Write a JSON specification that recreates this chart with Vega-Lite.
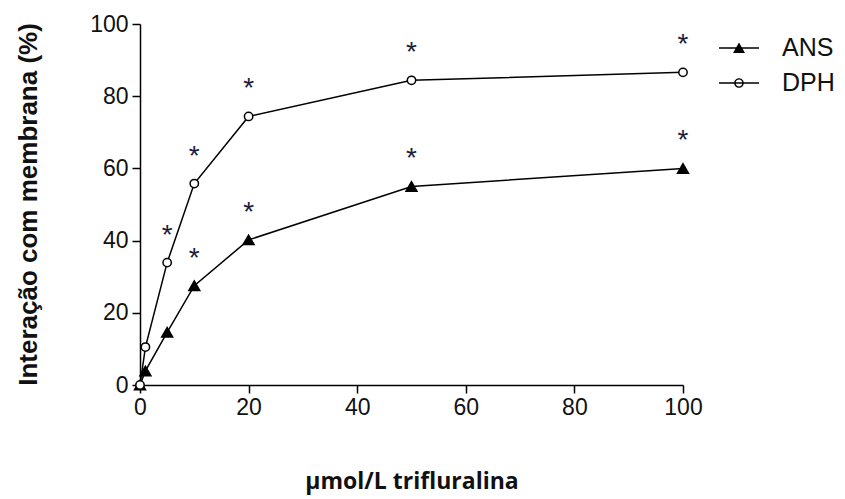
{
  "$schema": "https://vega.github.io/schema/vega-lite/v6.json",
  "width": 543,
  "height": 361,
  "autosize": "none",
  "padding": {"left": 140, "top": 24, "right": 162, "bottom": 114},
  "background": "white",
  "config": {
    "view": {"stroke": null},
    "font": "Liberation Sans",
    "axis": {
      "domainColor": "black",
      "domainWidth": 1.5,
      "tickColor": "black",
      "tickWidth": 1.5,
      "tickSize": 8,
      "grid": false,
      "labelFlush": false,
      "labelOverlap": false,
      "labelFont": "Liberation Sans",
      "labelFontSize": 23,
      "labelColor": "#111111",
      "titleColor": "#111111"
    },
    "legend": {
      "title": null,
      "orient": "none",
      "legendX": 578,
      "legendY": 3,
      "symbolSize": 1600,
      "symbolOpacity": 1,
      "rowPadding": 1,
      "labelOffset": 22,
      "labelFont": "Liberation Sans",
      "labelFontSize": 25,
      "labelColor": "#111111",
      "labelBaseline": "middle"
    }
  },
  "datasets": {
    "series_points": [
      {"conc": 0, "value": 0, "series": "ANS", "sig": false},
      {"conc": 1, "value": 3.9, "series": "ANS", "sig": false},
      {"conc": 5, "value": 14.6, "series": "ANS", "sig": false},
      {"conc": 10, "value": 27.5, "series": "ANS", "sig": true},
      {"conc": 20, "value": 40.2, "series": "ANS", "sig": true},
      {"conc": 50, "value": 55, "series": "ANS", "sig": true},
      {"conc": 100, "value": 60, "series": "ANS", "sig": true},
      {"conc": 0, "value": 0, "series": "DPH", "sig": false},
      {"conc": 1, "value": 10.5, "series": "DPH", "sig": false},
      {"conc": 5, "value": 33.9, "series": "DPH", "sig": true},
      {"conc": 10, "value": 55.8, "series": "DPH", "sig": true},
      {"conc": 20, "value": 74.4, "series": "DPH", "sig": true},
      {"conc": 50, "value": 84.4, "series": "DPH", "sig": true},
      {"conc": 100, "value": 86.6, "series": "DPH", "sig": true}
    ]
  },
  "data": {"name": "series_points"},
  "encoding": {
    "x": {
      "field": "conc",
      "type": "quantitative",
      "scale": {"domain": [0, 100], "nice": false},
      "axis": {
        "values": [0, 20, 40, 60, 80, 100],
        "title": "µmol/L trifluralina",
        "titleFont": "Open Sans",
        "titleFontWeight": "bold",
        "titleFontSize": 23,
        "titleX": 271.5,
        "titleY": 96,
        "titleAlign": "center",
        "titleBaseline": "middle",
        "labelPadding": 3
      }
    },
    "y": {
      "field": "value",
      "type": "quantitative",
      "scale": {"domain": [0, 100], "nice": false},
      "axis": {
        "values": [0, 20, 40, 60, 80, 100],
        "title": "Interação com membrana (%)",
        "titleFont": "Liberation Sans",
        "titleFontWeight": "bold",
        "titleFontSize": 26,
        "titleX": -112,
        "titleY": 180,
        "titleAngle": -90,
        "titleAlign": "center",
        "titleBaseline": "middle",
        "labelPadding": 4
      }
    }
  },
  "layer": [
    {
      "mark": {"type": "line", "color": "black", "strokeWidth": 1.5},
      "encoding": {"detail": {"field": "series"}}
    },
    {
      "mark": {"type": "point", "stroke": "black", "strokeWidth": 1.5, "opacity": 1},
      "encoding": {
        "fill": {
          "field": "series",
          "type": "nominal",
          "scale": {"domain": ["ANS", "DPH"], "range": ["black", "white"]},
          "legend": null
        },
        "shape": {
          "field": "series",
          "type": "nominal",
          "scale": {"domain": ["ANS", "DPH"], "range": ["triangle-up", "circle"]},
          "legend": null
        },
        "size": {
          "field": "series",
          "type": "nominal",
          "scale": {"domain": ["ANS", "DPH"], "range": [120, 70]},
          "legend": null
        }
      }
    },
    {
      "transform": [{"filter": "false"}],
      "mark": {"type": "point", "filled": true, "color": "black", "opacity": 1},
      "encoding": {
        "shape": {
          "field": "series",
          "type": "nominal",
          "scale": {
            "domain": ["ANS", "DPH"],
            "range": [
              "M-1,-0.04L1,-0.04L1,0.04L-1,0.04Z M0,-0.27L0.3,0.25L-0.3,0.25Z",
              "M-1,-0.04L1,-0.04L1,0.04L-1,0.04Z M0.24,0A0.24,0.24 0 1 1 -0.24,0A0.24,0.24 0 1 1 0.24,0Z M0.17,0A0.17,0.17 0 1 0 -0.17,0A0.17,0.17 0 1 0 0.17,0Z"
            ]
          }
        }
      }
    },
    {
      "transform": [{"filter": "datum.sig"}],
      "mark": {
        "type": "text",
        "text": "*",
        "font": "Liberation Sans",
        "fontSize": 28,
        "color": "#1c1c3c",
        "baseline": "alphabetic",
        "dy": -19
      }
    }
  ],
  "resolve": {
    "scale": {"shape": "independent", "fill": "independent"},
    "legend": {"shape": "independent", "fill": "independent"}
  }
}
